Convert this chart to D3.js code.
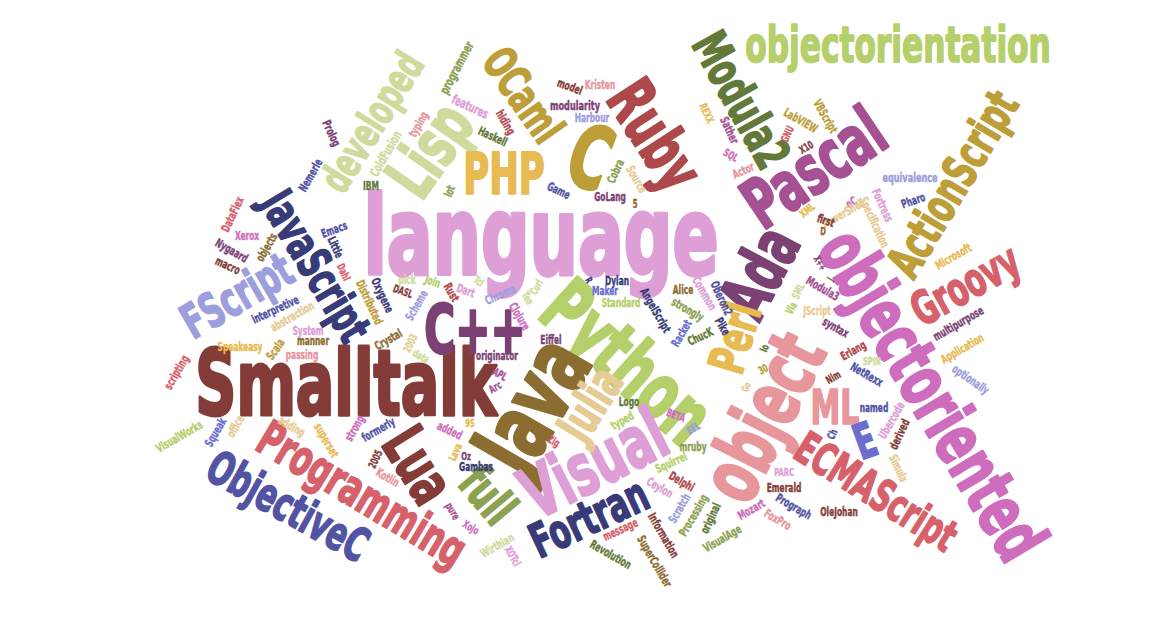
<!DOCTYPE html>
<html>
<head>
<meta charset="utf-8">
<script src="https://cdn.jsdelivr.net/npm/d3@7"></script>
<style>
    body { margin: 0; background: #fff; }
    svg { display: block; }
</style>
</head>
<body>
<div id="chart"></div>
<script>
// words of the cloud, all lists share the same order
const words = [
    "language","Smalltalk","Python","Java","object","objectoriented","C","C++","Visual","Pascal",
    "Ada","Lisp","Ruby","Lua","PHP","objectorientation","Modula2","Julia","Perl","full",
    "ML","Programming","ObjectiveC","Fortran","FScript","JavaScript","ActionScript","ECMAScript","Groovy","OCaml",
    "developed","E","programmer","features","Prolog","Nemerle","ColdFusion","typing","IBM","lot",
    "DataFlex","model","Kristen","modularity","Harbour","hiding","Haskell","Game","Cobra","Source",
    "GoLang","5","REXX","Sather","SQL","Actor","LabVIEW","VBScript","GNU","X10",
    "equivalence","Pharo","Fortress","Specification","eC","PowerShell","XML","first","D","Xerox",
    "Nygaard","objects","macro","Emacs","Little","Dahl","pick","Join","Rust","Distributed",
    "Oxygene","DASL","Scheme","interpretive","abstraction","System","manner","passing","Speakeasy","Scala",
    "scripting","Crystal","2003","data","Tcl","Dart","Chrome","Curl","Tea","Clojure",
    "R","Dylan","Maker","Standard","AngelScript","Alice","Common","Oberon2","strongly","Racket",
    "ChucK","Pike","Eiffel","originator","APL","Arc","Logo","Io","30","Go",
    "Microsoft","X++","J","Modula3","SML","Via","JScript","syntax","multipurpose","Application",
    "Erlang","SPIN","Nim","NetRexx","optionally","named","Ubercode","derived","Simula","Ch",
    "PARC","Emerald","Prograph","OleJohan","FoxPro","Mozart","VisualAge","original","Processing","Scratch",
    "Delphi","Ceylon","Squirrel","mruby","EEL","BETA","typed","Zig","95","Oz",
    "Gambas","Xojo","Wirthian","XOTcl","message","Revolution","SuperCollider","Information","VisualWorks","Squeak",
    "office","adding","superset","strong","formerly","added","2005","Kotlin","Lava","pure"
];

// word weight (drives the font size)
const weights = [
    100,84,73,85,74,66,80,62,66,64,
    62,62,60,56,52,46,45,46,46,46,
    44,45,43,44,44,43,44,41,43,42,
    39,45,12,12,11,11,12,11,11,11,
    11,11,11,12,11,11,11,11,11,11,
    11,11,10,11,10,11,11,11,10,10,
    12,11,11,11,11,11,10,11,10,11,
    11,11,11,11,11,10,11,11,11,11,
    11,10,11,11,11,11,11,11,11,11,
    11,11,10,10,10,11,11,10,10,11,
    9,11,11,11,11,11,11,11,11,11,
    11,11,11,11,10,10,11,10,10,9,
    11,9,9,11,10,10,11,11,11,11,
    11,10,10,11,11,11,11,11,11,10,
    10,11,11,11,11,11,11,11,11,11,
    11,11,11,11,10,10,11,10,10,10,
    11,10,11,10,11,11,11,11,11,11,
    11,11,11,11,11,11,10,11,10,10
];

// cloud layout position of each word
const layoutX = [
    541,346,627,532,763,932,590,475,594,814,
    760,430,655,418,504,898,741,590,735,488,
    835,362,288,589,237,316,953,876,965,523,
    372,865,457,470,332,310,386,418,371,449,
    232,570,600,575,592,506,493,559,615,637,
    610,635,707,730,731,743,801,826,787,806,
    910,913,883,875,851,843,807,826,823,247,
    232,266,228,334,336,344,407,433,452,370,
    383,403,416,275,292,308,313,302,240,275,
    176,388,410,421,479,466,500,536,528,520,
    589,617,605,621,656,683,705,722,688,681,
    700,723,551,497,500,495,629,764,763,746,
    953,820,830,823,798,791,817,836,958,962,
    853,872,833,867,971,874,891,899,899,832,
    784,784,794,839,778,751,722,710,693,679,
    682,660,671,693,693,676,622,554,470,466,
    476,471,497,513,620,611,655,664,179,215,
    235,292,327,354,378,450,375,388,455,453
];
const layoutY = [
    237,383,362,405,417,395,158,330,464,168,
    272,150,135,465,174,45,100,404,338,495,
    408,494,506,518,296,266,184,492,285,95,
    122,441,68,107,133,175,154,124,185,191,
    214,86,84,106,117,122,136,190,171,179,
    196,203,113,130,155,170,120,116,134,147,
    178,200,205,222,202,213,210,220,231,235,
    250,247,265,229,247,272,279,281,292,302,
    295,291,305,309,316,330,340,354,346,349,
    372,339,343,356,281,290,294,287,298,316,
    280,280,290,302,310,289,293,298,309,333,
    336,326,339,355,374,387,401,348,369,387,
    256,263,279,288,291,308,310,327,323,348,
    350,361,377,374,379,407,420,434,468,434,
    472,487,506,511,519,509,538,518,515,508,
    481,487,462,446,428,415,420,441,423,456,
    466,527,545,556,529,554,561,535,436,432,
    426,426,440,428,429,430,459,477,452,511
];

// rotation in degrees
const angles = [
    0,0,42,-60,-63,59,20,0,-27,-34,
    -62,-55,57,58,0,0,61,-58,-73,50,
    0,31,29,-25,-30,59,-59,32,-29,55,
    -58,-20,-62,25,65,-60,-60,-60,0,-70,
    -65,20,0,0,0,60,25,25,-65,60,
    0,0,65,65,30,-25,30,60,-65,-30,
    0,-20,65,65,-30,-30,-40,20,0,0,
    30,-60,25,-20,65,65,0,20,60,65,
    65,20,-60,-25,-30,0,0,0,0,-55,
    -60,-30,-65,30,35,20,-25,-60,60,60,
    60,0,0,0,60,0,60,65,30,-60,
    -25,60,0,0,30,-30,0,-70,-30,-70,
    -30,60,-60,30,-65,-60,0,30,-30,-30,
    -30,0,-30,30,35,0,-60,-65,65,-65,
    0,0,30,0,30,-30,-30,-65,-60,-60,
    30,30,-25,0,-30,20,-30,30,0,0,
    0,30,-30,60,-25,30,60,60,-30,-60,
    -60,30,60,-60,-30,25,-65,30,-65,60
];

// colour group of each word
const groups = [
    19,12,6,8,15,18,9,16,19,17,
    16,7,13,12,10,6,4,11,10,5,
    15,14,1,0,3,0,9,14,14,9,
    7,2,5,19,16,1,7,15,4,5,
    14,12,15,16,3,13,4,1,5,11,
    16,8,10,17,18,15,9,9,14,12,
    3,1,19,11,18,11,10,12,8,18,
    16,8,12,1,0,14,7,6,13,9,
    0,12,3,1,11,19,8,15,10,9,
    14,8,11,7,7,19,3,7,7,18,
    0,0,2,6,0,8,19,1,5,2,
    4,0,16,16,17,17,4,4,9,11,
    10,16,4,17,7,6,11,16,16,10,
    13,7,12,1,3,1,19,12,11,1,
    19,12,1,12,15,18,5,4,5,3,
    13,19,6,5,3,18,6,14,10,16,
    0,18,7,19,14,4,8,12,6,2,
    11,11,10,18,1,18,12,15,10,17
];

const palette = [
    "#393b79","#5254a3","#6b6ecf","#9c9ede","#637939","#8ca252","#b5cf6b","#cedb9c",
    "#8c6d31","#bd9e39","#e7ba52","#e7cb94","#843c39","#ad494a","#d6616b","#e7969c",
    "#7b4173","#a55194","#ce6dbd","#de9ed6"
];

// set dimensions
const w = 1171;
const h = 617;
const fontStack = "Impact, 'Liberation Sans Narrow', 'Arial Narrow', 'DejaVu Sans Condensed', sans-serif";

const dataset = words.map((d, i) => ({
    text: d,
    weight: weights[i],
    x: layoutX[i],
    y: layoutY[i],
    rotate: angles[i],
    group: groups[i]
}));

// scales
const x_scale = d3.scaleLinear().domain([0, 1171]).range([0, w]);
const y_scale = d3.scaleLinear().domain([0, 617]).range([0, h]);
const size_scale = d3.scaleLinear()
    .domain([d3.min(weights), d3.max(weights)])
    .range([d3.min(weights), d3.max(weights)]);
const color_scale = d3.scaleOrdinal().domain(d3.range(palette.length)).range(palette);

const svg = d3.select('#chart')
    .append('svg')
    .attr('width', w)
    .attr('height', h)
    .style('background', '#fff');

// squeeze wide fallback fonts so words keep a narrow, tall footprint
const probe = svg.append('text')
    .attr('font-family', fontStack)
    .attr('font-weight', 'bold')
    .attr('font-size', 100)
    .text('language');
const measured = probe.node().getComputedTextLength();
probe.remove();
const squeeze = Math.min(1, 355 / measured);
const stretch = squeeze < 1 ? 1.08 : 1;

svg.append('g')
    .selectAll('text')
    .data(dataset)
    .enter()
    .append('text')
    .attr('text-anchor', 'middle')
    .attr('dominant-baseline', 'central')
    .attr('font-family', fontStack)
    .attr('font-weight', 'bold')
    .attr('font-size', d => size_scale(d.weight))
    .attr('fill', d => color_scale(d.group))
    .attr('stroke', d => color_scale(d.group))
    .attr('stroke-width', d => size_scale(d.weight) * 0.035)
    .attr('stroke-linejoin', 'round')
    .attr('transform', d => `translate(${x_scale(d.x)},${y_scale(d.y)}) rotate(${d.rotate}) scale(${squeeze},${stretch})`)
    .text(d => d.text);
</script>
</body>
</html>
